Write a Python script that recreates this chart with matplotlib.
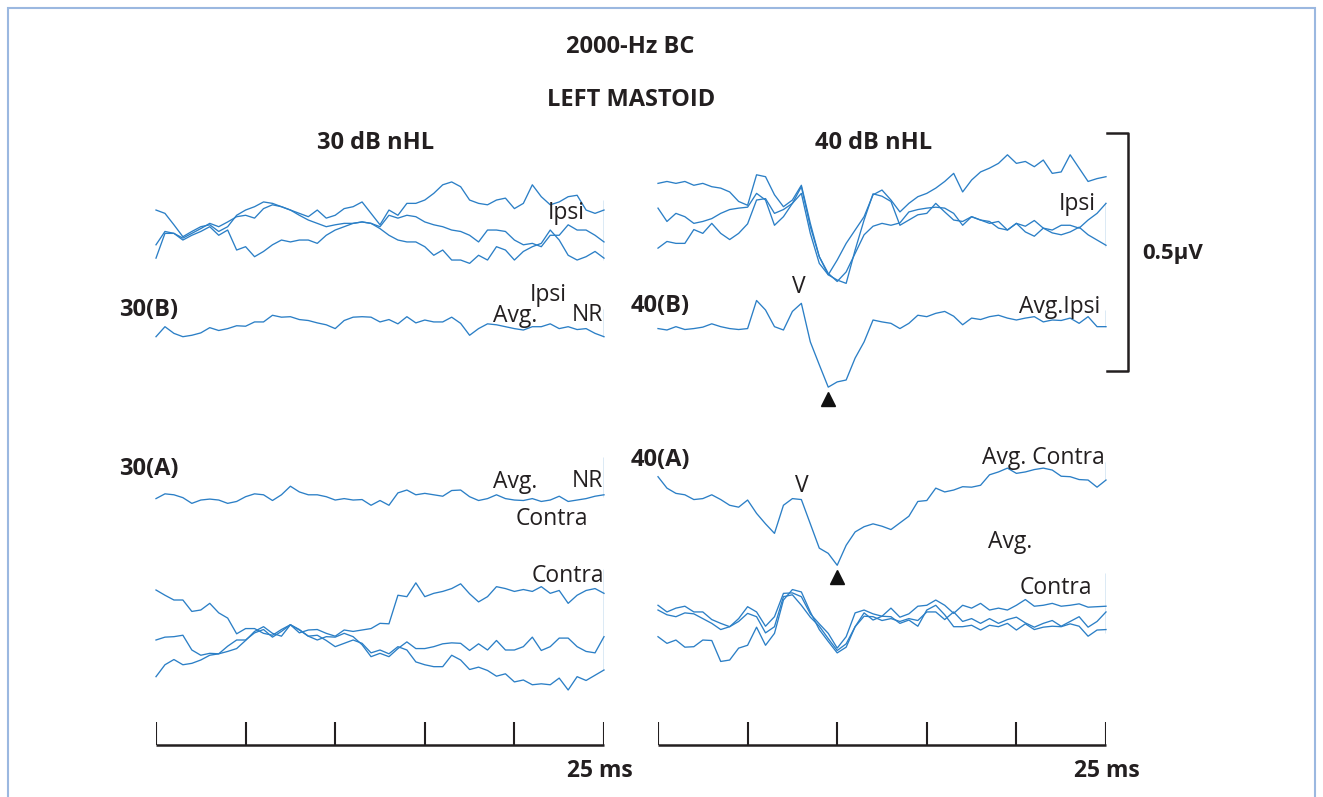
import numpy as np
import matplotlib.pyplot as plt
from matplotlib.patches import Rectangle

plt.rcParams['font.family'] = ['Open Sans', 'DejaVu Sans']

# =============================================================================
# Data: ABR traces, amplitudes in nV, sampled every 0.5 ms (0-25 ms)
# =============================================================================
t_ms = np.linspace(0, 25, 51)

# 30 dB nHL, ipsilateral single runs
ipsi30_a = [35, 28, 4, -21, -10, 0, 4, -10, 0, 24, 35, 42, 52, 49, 42, 35, 28, 21, 35, 18,
            24, 38, 42, 52, 28, 4, 35, 24, 49, 49, 56, 70, 88, 94, 84, 56, 49, 46, 56, 60,
            38, 49, 88, 63, 46, 52, 63, 66, 35, 28, 35]
ipsi30_b = [-38, -10, -14, -24, -14, -4, 7, 0, 10, 21, 24, 18, 38, 46, 42, 35, 24, 14, 7, 0,
            4, 7, 7, 10, 7, 0, 24, 18, 24, 21, 10, 4, 0, -7, -10, -18, -32, -7, -7, -10,
            -28, -38, -35, -42, -18, -18, 4, -7, -7, -18, -32]
ipsi30_c = [-66, -14, -14, -28, -18, -10, 0, -18, -7, -49, -42, -63, -52, -38, -28, -32, -28, -28, -35, -18,
            -7, 0, 7, 10, 7, -4, -18, -28, -32, -32, -42, -60, -49, -70, -70, -77, -60, -70, -42, -49,
            -70, -52, -42, -35, -7, -28, -60, -70, -63, -52, -66]
avg_ipsi30 = [-21, 0, -14, -21, -18, -13, -2, -8, -4, 2, 1, 10, 10, 24, 20, 21, 15, 13, 8, 4,
              -4, 13, 20, 21, 20, 10, 15, 6, 21, 8, 14, 10, 10, 20, 7, -18, -4, 6, 4, 0,
              -4, -7, 0, 0, 6, -4, 0, -6, -4, -14, -21]
avg_contra30 = [-4, 6, 4, -2, -14, -7, -5, -7, -14, -10, 0, 6, 4, -8, 4, 22, 10, 4, 4, 0,
                -7, -4, -7, -6, -18, -8, -18, 8, 14, 4, 7, 4, 1, 13, 14, 0, -8, -4, 4, -4,
                -7, -8, -4, -10, -7, 1, -10, -7, -4, 1, 4]
contra30_a = [105, 94, 84, 84, 60, 63, 77, 57, 46, 13, 24, 24, 14, 10, 22, 32, 15, 21, 22, 14,
              8, 21, 18, 21, 24, 35, 34, 94, 91, 120, 91, 98, 102, 108, 118, 97, 80, 91, 112, 108,
              102, 106, 102, 112, 98, 104, 77, 94, 104, 108, 98]
contra30_b = [0, 6, 7, 10, -21, -32, -28, -29, -13, 0, 0, 15, 22, 6, 18, 32, 21, 8, 0, 7,
              6, 14, 7, -10, -35, -28, -35, -18, -4, -18, -18, -14, -8, -6, -7, -22, -8, -21, -1, -21,
              -21, -14, 6, -22, -14, 4, 4, -14, -24, -27, 7]
contra30_c = [-77, -52, -41, -52, -49, -42, -32, -29, -24, -18, -1, 18, 28, 14, 8, 32, 22, 8, 10, -1,
              -14, -7, 0, -7, -27, -21, -29, -14, -21, -46, -52, -56, -56, -32, -42, -62, -57, -64, -76, -71,
              -88, -84, -94, -92, -94, -80, -105, -77, -85, -74, -63]

# 40 dB nHL
ipsi40_a = [70, 74, 70, 74, 66, 70, 63, 60, 52, 32, 24, 88, 84, 46, 21, 35, 66, -14, -84, -122,
            -91, -56, -28, 0, 46, 56, 35, 10, 28, 42, 49, 60, 74, 91, 52, 77, 94, 102, 112, 130,
            112, 116, 105, 119, 91, 94, 130, 102, 74, 80, 84]
ipsi40_b = [18, -10, 7, 0, -14, -10, -4, 7, 15, 18, 20, 49, 35, -18, 0, 28, 63, -21, -84, -119,
            -136, -116, -77, -38, -20, -14, -18, -13, 10, 15, 18, 20, 18, 7, -18, 0, -7, -14, -10, -28,
            -14, -20, -8, -24, -28, -18, -18, -24, -7, 7, 28]
ipsi40_c = [-66, -52, -56, -56, -27, -35, -14, -35, -48, -35, -15, 35, 38, 7, 15, 28, 49, -35, -98, -122,
            -133, -140, -70, -7, 48, 43, 32, -18, -7, 4, 7, 28, 10, -7, -10, 0, -7, -10, -24, -28,
            -14, -32, -41, -24, -34, -38, -32, -22, -38, -49, -60]
avg_ipsi40 = [-18, -21, -14, -20, -18, -15, -8, -14, -18, -20, -18, 41, 21, -14, -21, 18, 35, -46, -94, -141,
              -130, -126, -80, -46, 0, -4, -7, -18, -7, 10, 7, 14, 18, 8, -10, 4, 1, 7, 10, 4,
              0, 4, 7, -4, 0, -1, 4, -7, 7, -14, -14]
avg_contra40 = [42, 18, 7, 4, -6, -4, 4, -6, -18, -22, -7, -35, -57, -77, -18, -4, -6, -57, -108, -119,
                -144, -102, -74, -63, -57, -62, -69, -55, -41, -10, -8, 18, 10, 14, 21, 20, 24, 46, 52, 60,
                49, 52, 57, 60, 56, 43, 42, 36, 35, 20, 35]
contra40_a = [24, 10, 18, 22, 10, 10, -6, -14, -21, -4, 21, 10, -20, 0, 49, 50, 42, 6, -15, -35,
              -66, -42, 8, 14, 6, 1, 18, -1, 6, 22, 24, 35, 24, 7, 24, 18, 28, 14, 18, 14,
              24, 36, 22, 24, 28, 22, 24, 27, 20, 21, 22]
contra40_b = [14, 4, 0, 8, 6, -4, -14, -27, -21, -10, 7, 0, -34, -21, 42, 46, 24, -1, -20, -46,
              -71, -57, -21, 1, 0, -8, -4, -10, -4, -8, 10, 10, -6, 10, -10, -4, -14, -4, -14, -6,
              -1, -13, -22, -14, -8, -20, -10, 0, -22, -10, 10]
contra40_c = [-42, -56, -49, -64, -63, -49, -50, -94, -91, -66, -60, -22, -60, -35, 35, 57, 52, 10, -27, -52,
              -76, -64, -21, 8, -7, 1, 0, -14, -7, -20, 14, 24, 4, -21, -21, -18, -28, -18, -21, -14,
              -28, -15, -27, -22, -20, -21, -15, -20, -41, -28, -27]

# end-of-sweep strokes (low, high) in nV
end_ipsi30 = (-70, 56)
end_avg_ipsi30 = (-21, 38)
end_avg_contra30 = (0, 84)
end_contra30 = (-63, 150)
end_ipsi40 = (-63, 31)
end_avg_ipsi40 = (-14, 21)
end_avg_contra40 = (35, 73)
end_contra40 = (-35, 91)

# =============================================================================
# Layout
# =============================================================================
W, H = 1323, 797
NV_PER_PX = 2.1          # vertical scale: 0.5 uV = 238 px
BLUE = '#2b7fc6'
INK = '#231f20'

fig = plt.figure(figsize=(W / 100, H / 100), dpi=100)
fig.patch.set_facecolor('white')


def fx(x):
    return x / W


def fy(y):
    return 1 - y / H


def lvl(y_px):
    """pixel row -> baseline in nV in the axes frame"""
    return -y_px * NV_PER_PX


def make_ax(x0):
    ax = fig.add_axes([fx(x0), 0, 448 / W, 1])
    ax.set_xlim(0, 25)
    ax.set_ylim(-H * NV_PER_PX, 0)
    ax.axis('off')
    return ax


def traces(ax, series, base, end):
    for s in series:
        ax.plot(t_ms, np.array(s) + base, color=BLUE, lw=0.95, clip_on=False)
    ax.vlines(25, end[0] + base, end[1] + base, color=BLUE, lw=0.95)


def time_bar(ax, x_right):
    yb = lvl(745)
    ax.plot([0, 25], [yb, yb], color=INK, lw=1.8, solid_capstyle='butt', clip_on=False)
    ax.vlines(np.arange(0, 26, 5), yb, lvl(722), color=INK, lw=1.5)
    fig.text(fx(x_right), fy(771), '25 ms', ha='center', va='center',
             fontsize=16.5, fontweight='bold', color=INK)


axL = make_ax(156)
axR = make_ax(658)

# 30 dB
traces(axL, [ipsi30_a, ipsi30_b, ipsi30_c], lvl(226.7), end_ipsi30)
traces(axL, [avg_ipsi30], lvl(326.7), end_avg_ipsi30)
traces(axL, [avg_contra30], lvl(496.7), end_avg_contra30)
traces(axL, [contra30_a, contra30_b, contra30_c], lvl(640), end_contra30)

# 40 dB
traces(axR, [ipsi40_a, ipsi40_b, ipsi40_c], lvl(216.7), end_ipsi40)
traces(axR, [avg_ipsi40], lvl(320), end_avg_ipsi40)
traces(axR, [avg_contra40], lvl(496.7), end_avg_contra40)
traces(axR, [contra40_a, contra40_b, contra40_c], lvl(616.7), end_contra40)

time_bar(axL, 600)
time_bar(axR, 1107)

# troughs (arrowheads) after wave V
for s, base in [(avg_ipsi40, lvl(320)), (avg_contra40, lvl(496.7))]:
    i = int(np.argmin(s))
    axR.plot(t_ms[i], s[i] + base - 12 * NV_PER_PX, marker='^', color='#111111',
             markersize=10, clip_on=False)

# 0.5 uV calibration bracket
xb = 26.23
yb0, yb1 = lvl(371), lvl(371) + 500
axR.plot([25.06, xb, xb, 25.06], [yb1, yb1, yb0, yb0], color=INK, lw=1.8, clip_on=False)

# =============================================================================
# Text
# =============================================================================
bold = dict(fontweight='bold', color=INK, ha='center', va='center')
reg = dict(color=INK, ha='center', va='center', fontsize=16.5)

fig.text(fx(630), fy(47), '2000-Hz BC', fontsize=17, **bold)
fig.text(fx(631), fy(100), 'LEFT MASTOID', fontsize=17, **bold)
fig.text(fx(376), fy(143), '30 dB nHL', fontsize=17, **bold)
fig.text(fx(874), fy(143), '40 dB nHL', fontsize=17, **bold)
fig.text(fx(1173), fy(253), '0.5µV', fontsize=16, **bold)

fig.text(fx(149), fy(310), '30(B)', fontsize=17, **bold)
fig.text(fx(660), fy(306), '40(B)', fontsize=17, **bold)
fig.text(fx(149), fy(469), '30(A)', fontsize=17, **bold)
fig.text(fx(660), fy(460), '40(A)', fontsize=17, **bold)

fig.text(fx(566), fy(213), 'Ipsi', **reg)
fig.text(fx(548), fy(295), 'Ipsi', **reg)
fig.text(fx(515), fy(316), 'Avg.', **reg)
fig.text(fx(587), fy(315), 'NR', **reg)
fig.text(fx(515), fy(482), 'Avg.', **reg)
fig.text(fx(587), fy(481), 'NR', **reg)
fig.text(fx(552), fy(519), 'Contra', **reg)
fig.text(fx(568), fy(576), 'Contra', **reg)

fig.text(fx(1077), fy(204), 'Ipsi', **reg)
fig.text(fx(1060), fy(307), 'Avg.Ipsi', **reg)
fig.text(fx(799), fy(287), 'V', **reg)
fig.text(fx(1043), fy(458), 'Avg. Contra', **reg)
fig.text(fx(802), fy(486), 'V', **reg)
fig.text(fx(1010), fy(542), 'Avg.', **reg)
fig.text(fx(1056), fy(588), 'Contra', **reg)

# light blue frame
fig.patches.append(Rectangle((fx(8), -0.1), fx(1315) - fx(8), fy(8) + 0.1,
                             transform=fig.transFigure, fill=False,
                             edgecolor='#9bb8e0', lw=1.5))

fig.savefig('out.png', dpi=100, facecolor='white')
